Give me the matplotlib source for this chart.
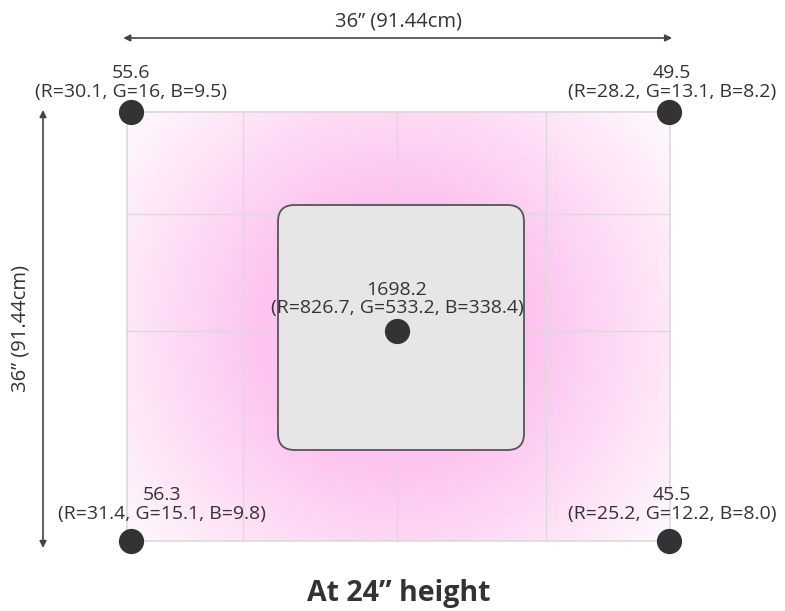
import numpy as np
import matplotlib
matplotlib.use("Agg")
import matplotlib.pyplot as plt
from matplotlib.patches import FancyBboxPatch

plt.rcParams['font.family'] = ['Open Sans', 'DejaVu Sans']

# ---- data (positions in inches on a 36" x 36" area) ----
area_size = 36
point_x = [0.25, 35.95, 0.25, 35.95, 17.9]
point_y = [36, 36, 0, 0, 17.6]
totals = [55.6, 49.5, 56.3, 45.5, 1698.2]
r_vals = [30.1, 28.2, 31.4, 25.2, 826.7]
g_vals = ["16", "13.1", "15.1", "12.2", "533.2"]
b_vals = ["9.5", "8.2", "9.8", "8.0", "338.4"]
grid_x = [7.7, 17.9, 27.8]
grid_y = [17.6, 27.4]
dim_label = '36\u201d (91.44cm)'
title = 'At 24\u201d height'

W, H = 785, 611
fig = plt.figure(figsize=(W / 100, H / 100), dpi=100)
ax = fig.add_axes([0, 0, 1, 1])
# pixel mapping: x px = 127 + 15.08*x ; y px = 541 - 11.92*y
sx, sy = 15.08, 11.92
ax.set_xlim(-127 / sx, (W - 127) / sx)
ax.set_ylim((541 - H) / sy, 541 / sy)
ax.axis('off')

# pink radial glow
nx, ny = 400, 320
xs = np.linspace(0, area_size, nx)
ys = np.linspace(0, area_size, ny)
XX, YY = np.meshgrid(xs, ys)
d = np.hypot((XX - 17.9) * sx, (YY - 17.6) * sy)
a = np.clip((365 - d) / 230, 0, 1)
pink = np.array([253, 196, 239]) / 255
img = np.ones((ny, nx, 3)) * (1 - a[..., None]) + pink * a[..., None]
ax.imshow(img, extent=(0, area_size, 0, area_size), origin='lower',
          aspect='auto', zorder=1, interpolation='bilinear')

# grid
gc = '#dadada'
for gx in grid_x:
    ax.plot([gx, gx], [0, area_size], color=gc, lw=1, zorder=2)
for gy in grid_y:
    ax.plot([0, area_size], [gy, gy], color=gc, lw=1, zorder=2)
ax.plot([0, area_size, area_size, 0, 0], [0, 0, area_size, area_size, 0],
        color=gc, lw=1.2, zorder=2)

# centre fixture
rx0, rx1 = (278 - 127) / sx, (524 - 127) / sx
ry0, ry1 = (541 - 450) / sy, (541 - 205) / sy
rect = FancyBboxPatch((rx0, ry0), rx1 - rx0, ry1 - ry0,
                      boxstyle="round,pad=0,rounding_size=1.1",
                      mutation_aspect=sx / sy,
                      facecolor='#e6e6e8', edgecolor='#555555', lw=1.3, zorder=3)
ax.add_patch(rect)

# points
ax.scatter(point_x, point_y, s=330, color='#333333', zorder=5, linewidths=0)

txt = '#333333'
offsets = [(0, 11), (3, 11), (31, 18), (3, 18), (0, 14)]
for x, y, t, r, g, b, off in zip(point_x, point_y, totals, r_vals, g_vals, b_vals, offsets):
    ax.annotate(f"{t}\n(R={r}, G={g}, B={b})", (x, y), xytext=off,
                textcoords='offset pixels', ha='center', va='bottom',
                fontsize=14, color=txt, linespacing=1.05, zorder=6)

# dimension arrows
ax.annotate('', xy=(-0.25, (541 - 38) / sy), xytext=(36.15, (541 - 38) / sy),
            arrowprops=dict(arrowstyle='<|-|>', color='#444444', lw=1.2,
                            mutation_scale=10, shrinkA=0, shrinkB=0))
ax.text(18, (541 - 21) / sy, dim_label, ha='center', va='center',
        fontsize=14.5, color=txt)
ax.annotate('', xy=(-84 / sx, (541 - 110) / sy), xytext=(-84 / sx, (541 - 548) / sy),
            arrowprops=dict(arrowstyle='<|-|>', color='#444444', lw=1.2,
                            mutation_scale=10, shrinkA=0, shrinkB=0))
ax.text(-106 / sx, (541 - 328) / sy, dim_label, ha='center', va='center',
        rotation=90, fontsize=14.5, color=txt)

ax.text(18, (541 - 594) / sy, title, ha='center', va='center',
        fontsize=20.5, fontweight='bold', color=txt)

fig.savefig('out.png', dpi=100)
